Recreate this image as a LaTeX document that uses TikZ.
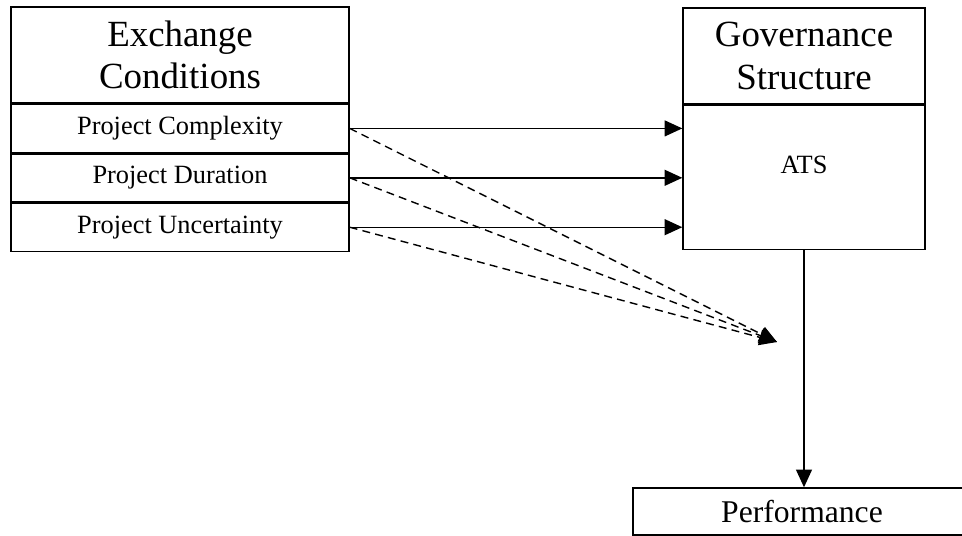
\documentclass[tikz,border=0pt]{standalone}
\usepackage{fontspec}
\setmainfont{Liberation Serif}
\usetikzlibrary{arrows.meta,positioning}

\begin{document}
\begin{tikzpicture}[
    hdr/.style={draw, line width=0.8pt, minimum width=6.76cm, minimum height=1.92cm, align=center, inner sep=0pt, font=\fontsize{21}{24}\selectfont},
    row/.style={draw, line width=0.8pt, minimum width=6.76cm, minimum height=0.96cm, inner sep=0pt, font=\fontsize{15}{18}\selectfont},
    arr/.style={-{Triangle[length=10pt,width=9pt]}, line width=0.8pt},
    darr/.style={arr, dashed, dash pattern=on 4.5pt off 3pt}
]
\useasboundingbox (0,0) rectangle (19.24,-10.72);

\node[hdr] (exch) at (3.6,-1.1) {Exchange\\Conditions};
\node[row, below=0pt of exch] (cplx) {Project Complexity};
\node[row, below=0pt of cplx] (dur) {Project Duration};
\node[row, below=0pt of dur] (unc) {Project Uncertainty};

\node[hdr, minimum width=4.84cm] (gov) at (16.08,-1.12) {Governance\\Structure};
\node[row, minimum width=4.84cm, minimum height=2.88cm, text height=10pt, text depth=15pt, below=0pt of gov] (ats) {ATS};

\node[row, minimum width=7.2cm, minimum height=0.94cm, font=\fontsize{18}{21}\selectfont] (perf) at (16.26,-10.23) {\hspace*{-0.44cm}Performance};
\coordinate (tip) at (15.54,-6.84);

\draw[arr] (cplx.east) -- (cplx.east -| ats.west);
\draw[arr] (dur.east) -- (dur.east -| ats.west);
\draw[arr] (unc.east) -- (unc.east -| ats.west);
\draw[darr] (cplx.east) -- (tip);
\draw[darr] (dur.east) -- (tip);
\draw[darr] (unc.east) -- (tip);
\draw[arr] (ats.south) -- (ats.south |- perf.north);
\end{tikzpicture}
\end{document}
